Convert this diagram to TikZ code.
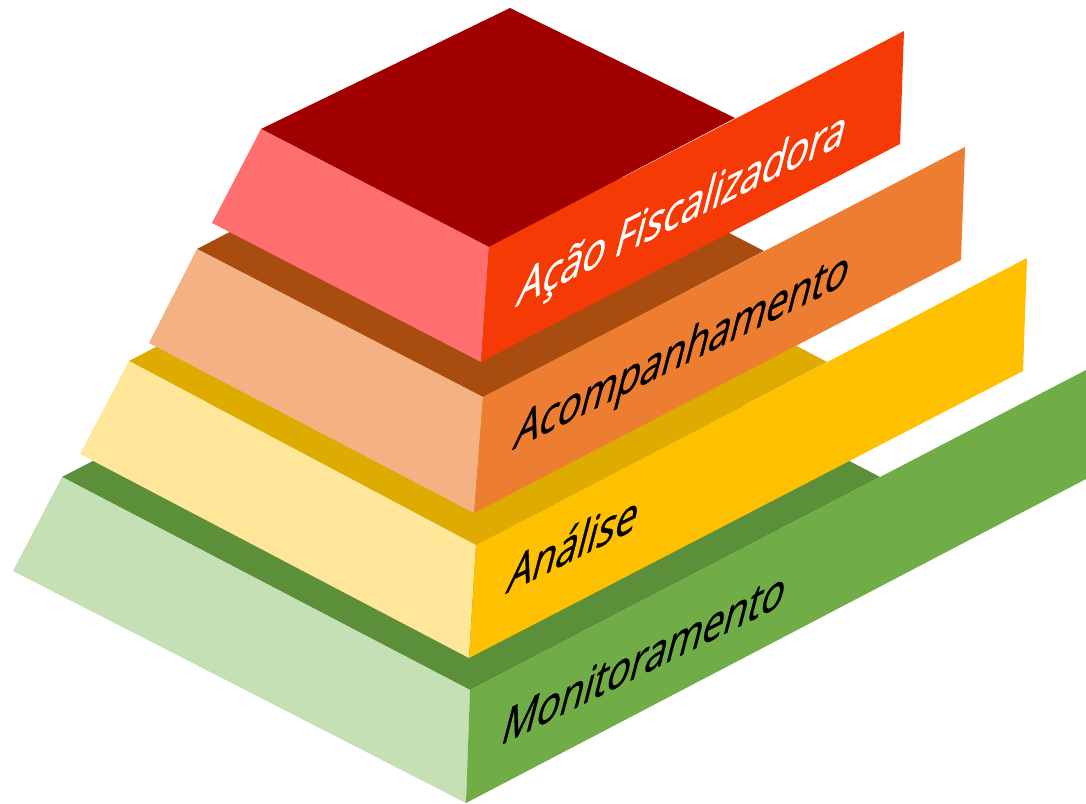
\documentclass[tikz,border=0pt]{standalone}
\usepackage{fontspec}
\setmainfont{Open Sans}
\newfontfamily\layerfont{Open Sans}[FakeBold=0.8]
\definecolor{redtop}{HTML}{A20000}
\definecolor{redleft}{HTML}{FF6F6F}
\definecolor{redfront}{HTML}{F63A06}
\definecolor{orangetop}{HTML}{A84C0F}
\definecolor{orangeleft}{HTML}{F4B183}
\definecolor{orangefront}{HTML}{ED7D31}
\definecolor{yellowtop}{HTML}{DEAB00}
\definecolor{yellowleft}{HTML}{FFE699}
\definecolor{yellowfront}{HTML}{FFC000}
\definecolor{greentop}{HTML}{5B8F3A}
\definecolor{greenleft}{HTML}{C5E0B4}
\definecolor{greenfront}{HTML}{70AD47}
\tikzset{
  facelabel/.style={inner sep=0pt, anchor=base west, transform shape,
    cm={0.712,0.354,0.250,0.968,(0,0)}, font=\layerfont\fontsize{54}{60}\selectfont}
}
\begin{document}
\begin{tikzpicture}[x=1pt,y=-1pt]
  \useasboundingbox (0,0) rectangle (1086,803);
  \fill[white] (0,0) rectangle (1086,803);
  % Monitoramento
  \coordinate (mL) at (62,477);
  \coordinate (mT) at (472,264);
  \coordinate (mR) at (880,477);
  \coordinate (mF) at (470,690);
  \coordinate (mB) at (466,803);
  \coordinate (mW) at (13,571);
  \coordinate (mE) at (1086,370);
  \coordinate (mS) at (1086,479);
  \fill[greentop] (mL)--(mT)--(mR)--(mF)--cycle;
  \fill[greenleft] (mL)--(mF)--(mB)--(mW)--cycle;
  \fill[greenfront] (mF)--(mE)--(mS)--(mB)--cycle;
  \node[facelabel] (lblMonit) at (499,746) {Monitoramento};
  % Analise
  \coordinate (aL) at (129,361);
  \coordinate (aT) at (480,178);
  \coordinate (aR) at (827,362);
  \coordinate (aF) at (476,545);
  \coordinate (aB) at (469,658);
  \coordinate (aW) at (80,454);
  \coordinate (aE) at (1027,258);
  \coordinate (aS) at (1023,371);
  \fill[yellowtop] (aL)--(aT)--(aR)--(aF)--cycle;
  \fill[yellowleft] (aL)--(aF)--(aB)--(aW)--cycle;
  \fill[yellowfront] (aF)--(aE)--(aS)--(aB)--cycle;
  \node[facelabel] (lblAnalise) at (505,594) {Análise};
  % Acompanhamento
  \coordinate (cL) at (197,249);
  \coordinate (cT) at (478,103);
  \coordinate (cR) at (764,251);
  \coordinate (cF) at (483,397);
  \coordinate (cB) at (474,513);
  \coordinate (cW) at (149,343);
  \coordinate (cE) at (965,147);
  \coordinate (cS) at (961,260);
  \fill[orangetop] (cL)--(cT)--(cR)--(cF)--cycle;
  \fill[orangeleft] (cL)--(cF)--(cB)--(cW)--cycle;
  \fill[orangefront] (cF)--(cE)--(cS)--(cB)--cycle;
  \node[facelabel] (lblAcomp) at (512,450) {Acompanhamento};
  % Acao Fiscalizadora
  \coordinate (fL) at (261,129);
  \coordinate (fT) at (510,8);
  \coordinate (fR) at (735,118);
  \coordinate (fF) at (489,247);
  \coordinate (fB) at (481,362);
  \coordinate (fW) at (212,223);
  \coordinate (fE) at (904,31);
  \coordinate (fS) at (900,144);
  \fill[redtop] (fL)--(fT)--(fR)--(fF)--cycle;
  \fill[redleft] (fL)--(fF)--(fB)--(fW)--cycle;
  \fill[redfront] (fF)--(fE)--(fS)--(fB)--cycle;
  \node[facelabel, text=white] (lblAcao) at (515,307) {Ação Fiscalizadora};
\end{tikzpicture}
\end{document}
